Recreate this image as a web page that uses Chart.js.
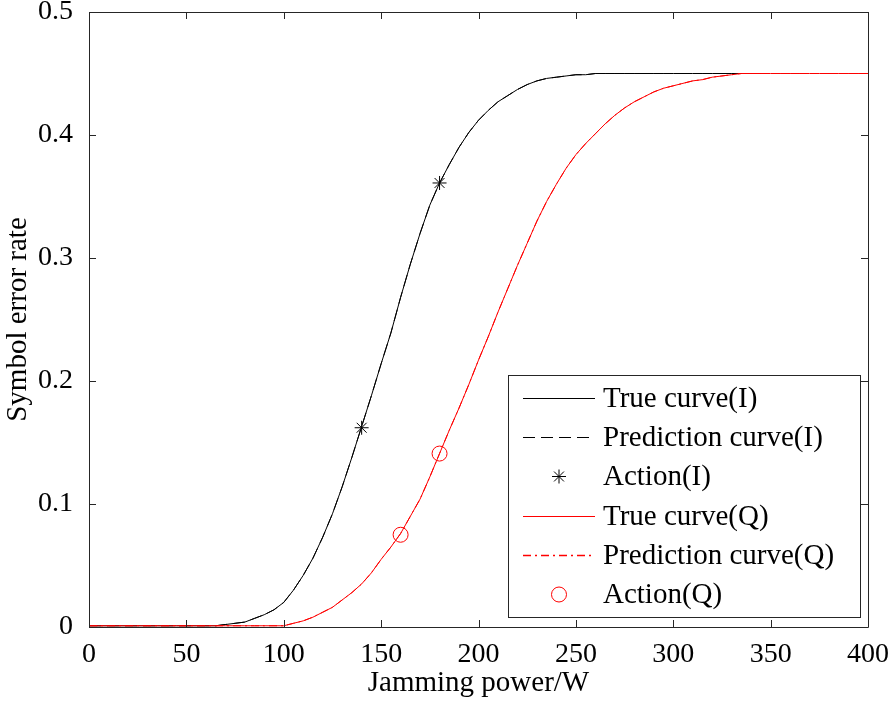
<!DOCTYPE html>
<html>
<head>
<meta charset="utf-8">
<script src="https://cdn.jsdelivr.net/npm/chart.js@4/dist/chart.umd.min.js"></script>
<style>
  html, body { margin: 0; padding: 0; background: #ffffff; }
  #wrap { position: relative; width: 896px; height: 704px; }
</style>
</head>
<body>
<div id="wrap"><canvas id="c" width="896" height="704"></canvas></div>
<script>
// ---------- data ----------
const powerI = [0,5,10,15,20,25,30,35,40,45,50,55,60,65,70,75,80,85,90,95,100,105,110,115,120,125,130,135,140,145,150,155,160,165,170,175,180,185,190,195,200,205,210,215,220,225,230,235,240,245,250,255,260,265,270,275,280,285,290,295,300,305,310,315,320,325,330,335,340,345];
const trueI = [0.001,0.001,0.001,0.001,0.001,0.001,0.001,0.001,0.001,0.001,0.001,0.001,0.001,0.001,
  0.002,0.003,0.004,0.007,0.010,0.014,0.020,0.030,0.042,0.056,0.073,0.092,0.114,0.138,0.163,0.188,0.214,0.239,0.268,0.295,0.320,0.343,0.361,0.376,0.390,0.402,0.412,0.420,0.427,0.432,0.437,0.441,0.444,0.446,0.447,0.448,0.449,0.449,
  0.45,0.45,0.45,0.45,0.45,0.45,0.45,0.45,0.45,0.45,0.45,0.45,0.45,0.45,0.45,0.45,0.45,0.45];
const predI = trueI; // prediction curve coincides with the true curve in the picture

const powerQ = [0,5,10,15,20,25,30,35,40,45,50,55,60,65,70,75,80,85,90,95,100,105,110,115,120,125,130,135,140,145,150,155,160,165,170,175,180,185,190,195,200,205,210,215,220,225,230,235,240,245,250,255,260,265,270,275,280,285,290,295,300,305,310,315,320,325,330,335,340,345,350,355,360,365,370,375,380,385,390,395,400];
const trueQ = [0.001,0.001,0.001,0.001,0.001,0.001,0.001,0.001,0.001,0.001,0.001,0.001,0.001,0.001,0.001,0.001,0.001,0.001,0.001,0.001,0.001,
  0.003,0.005,0.008,0.012,0.016,0.022,0.028,0.035,0.044,0.055,
  0.065,0.076,0.090,0.104,0.122,0.141,0.160,0.178,0.197,0.217,
  0.236,0.256,0.275,0.294,0.312,0.330,0.346,0.360,0.373,0.384,
  0.393,0.401,0.409,0.416,0.422,0.427,0.431,0.435,0.438,0.440,
  0.442,0.444,0.445,0.447,0.448,0.449,
  0.45,0.45,0.45,0.45,0.45,0.45,0.45,0.45,0.45,0.45,0.45,0.45,0.45,0.45];
const predQ = trueQ; // prediction curve coincides with the true curve in the picture

const actionIx = [140, 180];
const actionIy = [0.162, 0.361];
const actionQx = [160, 180];
const actionQy = [0.075, 0.141];

const xTickLabels = ['0','50','100','150','200','250','300','350','400'];
const yTickLabels = ['0','0.1','0.2','0.3','0.4','0.5'];
const seriesNames = ['True curve(I)','Prediction curve(I)','Action(I)','True curve(Q)','Prediction curve(Q)','Action(Q)'];
const seriesColors = ['#000000','#000000','#000000','#ff0000','#ff0000','#ff0000'];

// ---------- build ----------
const pts = (xs, ys) => xs.map((x, i) => ({ x: x, y: ys[i] }));
const FONT = 'Liberation Serif, Times New Roman, serif';

const datasets = [
  { label: seriesNames[0], data: pts(powerI, trueI), borderColor: seriesColors[0], borderWidth: 1, pointRadius: 0, showLine: true, order: 6 },
  { label: seriesNames[1], data: pts(powerI, predI), borderColor: seriesColors[1], borderWidth: 1, borderDash: [12, 6], pointRadius: 0, showLine: true, order: 5 },
  { label: seriesNames[2], data: pts(actionIx, actionIy), borderColor: seriesColors[2], borderWidth: 1, pointStyle: 'star', pointRadius: 7, showLine: false, order: 2 },
  { label: seriesNames[3], data: pts(powerQ, trueQ), borderColor: seriesColors[3], borderWidth: 1, pointRadius: 0, showLine: true, order: 4 },
  { label: seriesNames[4], data: pts(powerQ, predQ), borderColor: seriesColors[4], borderWidth: 1, borderDash: [8, 4, 2, 4], pointRadius: 0, showLine: true, order: 3 },
  { label: seriesNames[5], data: pts(actionQx, actionQy), borderColor: seriesColors[5], backgroundColor: 'rgba(0,0,0,0)', borderWidth: 1, pointStyle: 'circle', pointRadius: 7.5, showLine: false, order: 1 }
];

const frameAndLegend = {
  id: 'frameAndLegend',
  afterDatasetsDraw(chart) {
    const ctx = chart.ctx, a = chart.chartArea;
    const xs = chart.scales.x, ys = chart.scales.y;
    ctx.save();
    ctx.strokeStyle = '#262626';
    ctx.lineWidth = 1;
    ctx.beginPath();
    ctx.rect(Math.round(a.left) + 0.5, Math.round(a.top) + 0.5, Math.round(a.right - a.left), Math.round(a.bottom - a.top));
    ctx.stroke();
    const TL = 7;
    ctx.beginPath();
    xs.ticks.forEach(t => {
      const px = Math.round(xs.getPixelForValue(t.value)) + 0.5;
      ctx.moveTo(px, a.bottom); ctx.lineTo(px, a.bottom - TL);
      ctx.moveTo(px, a.top); ctx.lineTo(px, a.top + TL);
    });
    ys.ticks.forEach(t => {
      const py = Math.round(ys.getPixelForValue(t.value)) + 0.5;
      ctx.moveTo(a.left, py); ctx.lineTo(a.left + TL, py);
      ctx.moveTo(a.right, py); ctx.lineTo(a.right - TL, py);
    });
    ctx.stroke();
    ctx.restore();
  },
  afterDraw(chart) {
    const ctx = chart.ctx, a = chart.chartArea;
    const w = 352, h = 242;
    const right = a.right - 8, bottom = a.bottom - 10;
    const left = right - w, top = bottom - h;
    ctx.save();
    ctx.fillStyle = '#ffffff';
    ctx.fillRect(left, top, w, h);
    ctx.strokeStyle = '#262626';
    ctx.lineWidth = 1;
    ctx.strokeRect(Math.round(left) + 0.5, Math.round(top) + 0.5, w, h);
    const rowH = 39.2, first = top + 23;
    ctx.font = '29px ' + FONT;
    ctx.textBaseline = 'middle';
    ctx.textAlign = 'left';
    datasets.forEach((ds, i) => {
      const cy = Math.round(first + i * rowH) + 0.5;
      const x0 = left + 15, x1 = left + 87, xm = (x0 + x1) / 2;
      ctx.strokeStyle = seriesColors[i];
      ctx.lineWidth = 1;
      if (ds.showLine) {
        const dash = ds.borderDash ? ds.borderDash.slice() : [];
        if (dash.length === 4) { ctx.lineWidth = 1.4; }
        ctx.setLineDash(dash);
        ctx.beginPath(); ctx.moveTo(x0, cy); ctx.lineTo(x1, cy); ctx.stroke();
        ctx.setLineDash([]);
      } else if (ds.pointStyle === 'star') {
        const r = 7;
        ctx.beginPath();
        ctx.moveTo(xm - r, cy); ctx.lineTo(xm + r, cy);
        ctx.moveTo(xm, cy - r); ctx.lineTo(xm, cy + r);
        const d = r * 0.7071;
        ctx.moveTo(xm - d, cy - d); ctx.lineTo(xm + d, cy + d);
        ctx.moveTo(xm - d, cy + d); ctx.lineTo(xm + d, cy - d);
        ctx.stroke();
      } else {
        ctx.beginPath(); ctx.arc(xm, cy, 7.5, 0, Math.PI * 2); ctx.stroke();
      }
      ctx.fillStyle = '#000000';
      ctx.fillText(ds.label, left + 95, cy + 1);
    });
    ctx.restore();
  }
};

new Chart(document.getElementById('c'), {
  type: 'scatter',
  data: { datasets: datasets },
  options: {
    responsive: false,
    animation: false,
    events: [],
    layout: { padding: { top: 12, right: 28, left: 0, bottom: 0 } },
    plugins: { legend: { display: false }, tooltip: { enabled: false } },
    elements: { line: { tension: 0 } },
    scales: {
      x: {
        type: 'linear', min: 0, max: 400,
        grid: { display: false },
        border: { display: false },
        ticks: { stepSize: 50, color: '#000000', padding: 3, maxRotation: 0,
                 font: { family: FONT, size: 28 },
                 callback: (v, i) => xTickLabels[i] },
        title: { display: true, text: 'Jamming power/W', color: '#000000',
                 font: { family: FONT, size: 29 }, padding: { top: 0, bottom: 3 } },
        afterFit: s => { s.height = 704 - 627; s.paddingLeft = 0; s.paddingRight = 0; }
      },
      y: {
        type: 'linear', min: 0, max: 0.5,
        grid: { display: false },
        border: { display: false },
        ticks: { stepSize: 0.1, color: '#000000', padding: 8,
                 font: { family: FONT, size: 28 },
                 callback: (v, i) => yTickLabels[i] },
        title: { display: true, text: 'Symbol error rate', color: '#000000',
                 font: { family: FONT, size: 29 }, padding: { top: 1, bottom: 0 } },
        afterFit: s => { s.width = 89; s.paddingTop = 0; s.paddingBottom = 0; }
      }
    }
  },
  plugins: [frameAndLegend]
});
</script>
</body>
</html>
